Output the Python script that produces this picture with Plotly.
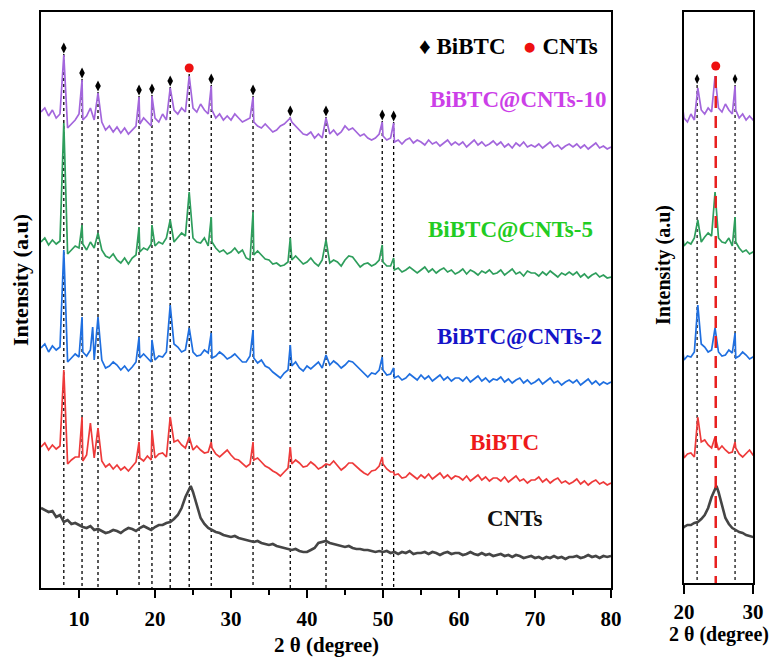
import plotly.graph_objects as go

# ---------------- data (2theta grid 5..80 step 0.5, intensities in a.u.) ----------------
x_start = 5.0
x_step = 0.5

purple_base = [
    476, 480, 472, 478, 470, 474, 466, 460, 464, 468,
    474, 468, 472, 480, 468, 462, 466, 458, 462, 456,
    461, 455, 460, 454, 458, 462, 464, 470, 466, 462,
    470, 466, 474, 468, 472, 478, 474, 480, 476, 482,
    480, 476, 484, 478, 474, 478, 470, 474, 468, 472,
    468, 474, 470, 466, 468, 470, 466, 462, 460, 464,
    460, 456, 458, 462, 464, 468, 466, 462, 458, 454,
    453, 456, 450, 454, 450, 452, 454, 458, 453, 456,
    462, 458, 460, 456, 452, 454, 450, 448, 450, 454,
    452, 448, 450, 446, 448, 444, 448, 450, 445, 448,
    446, 443, 448, 444, 446, 442, 445, 448, 443, 446,
    443, 446, 441, 445, 448, 443, 446, 442, 444, 447,
    443, 446, 441, 444, 440, 445, 442, 446, 441, 443,
    441, 444, 440, 443, 446, 441, 443, 439, 442, 444,
    441, 444, 440, 443, 439, 442, 445, 440, 442, 439,
    441]
purple_peak_x = [8.0, 10.4, 12.5, 17.9, 19.6, 22.0, 24.5, 27.4, 32.9, 37.8, 42.5, 49.9, 51.4]
purple_peak_y = [533, 508, 495, 491, 492, 500, 512, 502, 491, 470, 470, 466, 465]

green_base = [
    346, 350, 343, 348, 344, 347, 340, 334, 338, 342,
    340, 344, 338, 346, 340, 335, 338, 332, 330, 334,
    328, 325, 330, 324, 330, 333, 336, 340, 338, 344,
    342, 346, 344, 350, 348, 346, 351, 355, 352, 356,
    350, 346, 345, 350, 342, 346, 340, 336, 338, 334,
    336, 340, 335, 338, 330, 328, 333, 337, 333, 329,
    328, 324, 325, 322, 323, 326, 328, 332, 328, 324,
    326, 330, 325, 322, 328, 324, 325, 328, 326, 322,
    328, 332, 331, 326, 321, 324, 325, 322, 324, 328,
    326, 322, 322, 318, 320, 316, 318, 321, 318, 315,
    318, 321, 316, 319, 315, 318, 320, 316, 318, 314,
    316, 319, 314, 318, 316, 313, 317, 315, 318, 314,
    315, 318, 313, 316, 319, 314, 316, 312, 317, 315,
    315, 312, 316, 313, 317, 314, 311, 315, 313, 316,
    313, 316, 311, 314, 310, 313, 315, 311, 313, 310,
    311]
green_peak_x = [8.0, 10.4, 12.5, 17.9, 19.6, 22.0, 24.5, 27.4, 32.9, 37.8, 42.5, 49.9, 51.4]
green_peak_y = [465, 363, 355, 361, 363, 368, 396, 371, 376, 350, 348, 343, 330]

blue_base = [
    240, 244, 236, 242, 238, 241, 232, 226, 230, 234,
    231, 236, 232, 238, 228, 224, 228, 220, 222, 226,
    223, 218, 222, 217, 221, 226, 230, 234, 230, 226,
    228, 232, 231, 236, 240, 244, 241, 236, 238, 242,
    236, 232, 233, 238, 235, 230, 232, 236, 233, 229,
    231, 234, 230, 226, 226, 232, 230, 225, 228, 222,
    220, 216, 213, 210, 215, 218, 222, 226, 220, 217,
    222, 219, 223, 226, 220, 218, 223, 227, 224, 220,
    223, 227, 226, 222, 218, 214, 211, 215, 214, 218,
    218, 213, 214, 210, 212, 208, 210, 214, 211, 208,
    213, 209, 212, 207, 210, 213, 208, 211, 207, 210,
    210, 207, 211, 206, 209, 212, 207, 210, 206, 209,
    208, 211, 206, 209, 205, 208, 210, 205, 208, 204,
    206, 209, 204, 207, 210, 205, 207, 203, 206, 208,
    205, 208, 203, 206, 209, 204, 207, 203, 206, 204,
    206]
blue_peak_x = [8.0, 10.4, 11.8, 12.5, 17.9, 19.6, 22.0, 24.5, 27.4, 32.9, 37.8, 42.5, 49.9, 51.4]
blue_peak_y = [338, 271, 261, 271, 251, 248, 283, 260, 255, 258, 243, 233, 231, 220]

red_base = [
    141, 145, 138, 143, 139, 142, 134, 124, 128, 131,
    131, 127, 133, 126, 130, 124, 127, 121, 124, 119,
    123, 118, 121, 117, 121, 126, 130, 127, 132, 128,
    130, 134, 135, 131, 142, 146, 148, 143, 140, 136,
    138, 142, 138, 135, 136, 140, 134, 131, 135, 138,
    133, 129, 128, 124, 121, 124, 128, 130, 126, 122,
    120, 117, 115, 112, 116, 120, 124, 128, 125, 121,
    122, 126, 123, 119, 121, 124, 123, 127, 122, 118,
    121, 125, 125, 121, 118, 115, 113, 117, 118, 122,
    124, 119, 116, 113, 114, 110, 111, 115, 112, 109,
    113, 110, 114, 109, 112, 115, 110, 113, 109, 112,
    111, 108, 112, 107, 110, 113, 108, 111, 107, 110,
    110, 107, 111, 106, 109, 112, 107, 109, 105, 108,
    108, 111, 106, 109, 105, 108, 110, 105, 107, 104,
    106, 109, 104, 107, 103, 106, 108, 104, 106, 103,
    105]
red_peak_x = [8.0, 10.4, 11.5, 12.5, 17.9, 19.6, 22.0, 24.5, 27.4, 32.9, 37.8, 49.9, 51.4]
red_peak_y = [218, 171, 165, 160, 146, 158, 171, 151, 146, 146, 141, 131, 116]

gray_base = [
    80, 78, 76, 77, 71, 73, 66, 68, 64, 65,
    63, 61, 60, 62, 58, 59, 57, 55, 56, 58,
    57, 55, 58, 60, 59, 57, 60, 62, 60, 58,
    61, 63, 63, 65, 66, 69, 73, 80, 91, 98,
    96, 84, 70, 64, 60, 58, 56, 55, 53, 52,
    51, 52, 50, 49, 48, 47, 46, 47, 45, 44,
    43, 44, 42, 41, 40, 39, 38, 39, 37, 36,
    36, 38, 40, 45, 46, 47, 45, 44, 43, 42,
    41, 42, 40, 39, 39, 38, 38, 37, 36, 37,
    36, 37, 35, 36, 34, 36, 35, 37, 34, 35,
    35, 36, 34, 36, 35, 33, 35, 36, 34, 35,
    35, 33, 34, 36, 34, 33, 35, 33, 34, 32,
    33, 34, 32, 33, 31, 33, 32, 30, 31, 32,
    30, 31, 29, 31, 30, 32, 30, 31, 29, 31,
    31, 32, 30, 31, 33, 31, 32, 30, 32, 31,
    32]
gray_peak_x = [24.7]
gray_peak_y = [102]

# reference peak markers
bibtc_pos = [8.0, 10.4, 12.5, 17.9, 19.6, 22.0, 27.4, 32.9, 37.8, 42.5, 49.9, 51.4]
bibtc_mark = [540, 515, 502, 498, 499, 507, 509, 498, 477, 477, 473, 472]
cnt_pos = [24.5]
cnt_mark = [520]

inset_bibtc_pos = [21.9, 27.4]
inset_bibtc_mark = [509, 509]

series_names = ["BiBTC@CNTs-10", "BiBTC@CNTs-5", "BiBTC@CNTs-2", "BiBTC", "CNTs"]
line_colors = ["#a366dc", "#2e9e5c", "#1f6fe0", "#ee3a3a", "#454545"]
line_widths = [1.7, 1.7, 1.7, 1.7, 2.6]
label_colors = ["#cc3fe8", "#22cc22", "#1414c8", "#ee1a1a", "#111111"]
label_x = [67.8, 66.8, 68.0, 66.0, 67.3]
label_y = [488, 358, 251, 146, 70]


def merge(base, px, py):
    pts = {}
    for i, v in enumerate(base):
        pts[round(x_start + i * x_step, 2)] = v
    for a, b in zip(px, py):
        pts[round(a, 2)] = b
    xs = sorted(pts)
    return xs, [pts[k] for k in xs]


series = [
    merge(purple_base, purple_peak_x, purple_peak_y),
    merge(green_base, green_peak_x, green_peak_y),
    merge(blue_base, blue_peak_x, blue_peak_y),
    merge(red_base, red_peak_x, red_peak_y),
    merge(gray_base, gray_peak_x, gray_peak_y),
]

FONT = "Liberation Serif"
fig = go.Figure()


def vlines(pos, tops, gap):
    xs, ys = [], []
    for p, t in zip(pos, tops):
        xs += [p, p, None]
        ys += [t - gap, 0, None]
    return xs, ys

# ---- main panel dotted lines
vx, vy = vlines(bibtc_pos + cnt_pos, bibtc_mark + cnt_mark, 6)
fig.add_trace(go.Scatter(x=vx, y=vy, mode="lines", line=dict(color="black", width=1.3, dash="dot"),
                         xaxis="x", yaxis="y", hoverinfo="skip", showlegend=False))
# ---- inset dotted lines
ivx, ivy = vlines(inset_bibtc_pos, inset_bibtc_mark, 6)
fig.add_trace(go.Scatter(x=ivx, y=ivy, mode="lines", line=dict(color="black", width=1.2, dash="dot"),
                         xaxis="x2", yaxis="y2", hoverinfo="skip", showlegend=False))

# ---- data traces, both panels
for (xs, ys), nm, col, lw in zip(series, series_names, line_colors, line_widths):
    fig.add_trace(go.Scatter(x=xs, y=ys, mode="lines", name=nm, line=dict(color=col, width=lw),
                             xaxis="x", yaxis="y", showlegend=False))
    fig.add_trace(go.Scatter(x=xs, y=ys, mode="lines", name=nm, line=dict(color=col, width=lw),
                             xaxis="x2", yaxis="y2", showlegend=False))

# inset red dashed CNT line
fig.add_trace(go.Scatter(x=[cnt_pos[0] + 0.1, cnt_pos[0] + 0.1], y=[cnt_mark[0] - 8, 0], mode="lines",
                         line=dict(color="#e82020", width=2.5, dash="12px,8px"),
                         xaxis="x2", yaxis="y2", hoverinfo="skip", showlegend=False))

# ---- markers
fig.add_trace(go.Scatter(x=bibtc_pos, y=bibtc_mark, mode="markers",
                         marker=dict(symbol="diamond-tall", size=8, color="black"),
                         xaxis="x", yaxis="y", showlegend=False))
fig.add_trace(go.Scatter(x=cnt_pos, y=cnt_mark, mode="markers",
                         marker=dict(symbol="circle", size=9, color="#ee1010"),
                         xaxis="x", yaxis="y", showlegend=False))
fig.add_trace(go.Scatter(x=inset_bibtc_pos, y=inset_bibtc_mark, mode="markers",
                         marker=dict(symbol="diamond-tall", size=7, color="black"),
                         xaxis="x2", yaxis="y2", showlegend=False))
fig.add_trace(go.Scatter(x=[cnt_pos[0] + 0.1], y=[cnt_mark[0] + 2], mode="markers",
                         marker=dict(symbol="circle", size=9, color="#ee1010"),
                         xaxis="x2", yaxis="y2", showlegend=False))

annotations = []
for nm, c, lx, ly in zip(series_names, label_colors, label_x, label_y):
    annotations.append(dict(x=lx, y=ly, xref="x", yref="y", text=nm, showarrow=False,
                            xanchor="center", yanchor="middle",
                            font=dict(family=FONT, size=23, color=c, weight="bold")))

# legend text
annotations.append(dict(x=600 / 775, y=1 - 47 / 657, xref="paper", yref="paper", xanchor="right",
                        yanchor="middle",
                        text="♦ BiBTC   <span style='color:#ee1010'>●</span> CNTs", showarrow=False,
                        font=dict(family=FONT, size=23, color="black", weight="bold")))
# axis titles
annotations.append(dict(x=326 / 775, y=1 - 645 / 657, xref="paper", yref="paper", text="2 θ (degree)",
                        xanchor="center", yanchor="middle",
                        showarrow=False, font=dict(family=FONT, size=21, color="black", weight="bold")))
annotations.append(dict(x=718.5 / 775, y=1 - 634 / 657, xref="paper", yref="paper", text="2 θ (degree)",
                        xanchor="center", yanchor="middle",
                        showarrow=False, font=dict(family=FONT, size=20, color="black", weight="bold")))
annotations.append(dict(x=20 / 775, y=1 - 280 / 657, xref="paper", yref="paper", text="Intensity (a.u)",
                        textangle=-90, showarrow=False, xanchor="center", yanchor="middle",
                        font=dict(family=FONT, size=22, color="black", weight="bold")))
annotations.append(dict(x=663 / 775, y=1 - 265 / 657, xref="paper", yref="paper", text="Intensity (a.u)",
                        textangle=-90, showarrow=False, xanchor="center", yanchor="middle",
                        font=dict(family=FONT, size=20, color="black", weight="bold")))

axis_common = dict(showgrid=False, zeroline=False, showline=True, linecolor="black", linewidth=2,
                   mirror=True)
tickfont = dict(family=FONT, size=21, color="black", weight="bold")

fig.update_layout(
    width=775, height=657,
    margin=dict(l=0, r=0, t=0, b=0, autoexpand=False),
    paper_bgcolor="white", plot_bgcolor="white",
    xaxis=dict(domain=[41 / 775, 611 / 775], range=[5, 80], anchor="y",
               tickvals=[10, 20, 30, 40, 50, 60, 70, 80], ticks="outside", ticklen=8, tickwidth=2,
               tickcolor="black", tickfont=tickfont, ticklabelstandoff=3,
               minor=dict(tickvals=[15, 25, 35, 45, 55, 65, 75], ticks="outside", ticklen=5,
                          tickwidth=2, tickcolor="black"),
               **axis_common),
    yaxis=dict(domain=[1 - 588 / 657, 1 - 12 / 657], range=[0, 576], anchor="x",
               showticklabels=False, ticks="", **axis_common),
    xaxis2=dict(domain=[684 / 775, 753 / 775], range=[20, 30], anchor="y2",
                tickvals=[20, 30], ticks="outside", ticklen=9, tickwidth=2, tickcolor="black",
                tickfont=tickfont, ticklabelstandoff=0, **axis_common),
    yaxis2=dict(domain=[1 - 583 / 657, 1 - 12 / 657], range=[5, 576], anchor="x2",
                showticklabels=False, ticks="", **axis_common),
    annotations=annotations,
)

fig.write_html("out.html")
